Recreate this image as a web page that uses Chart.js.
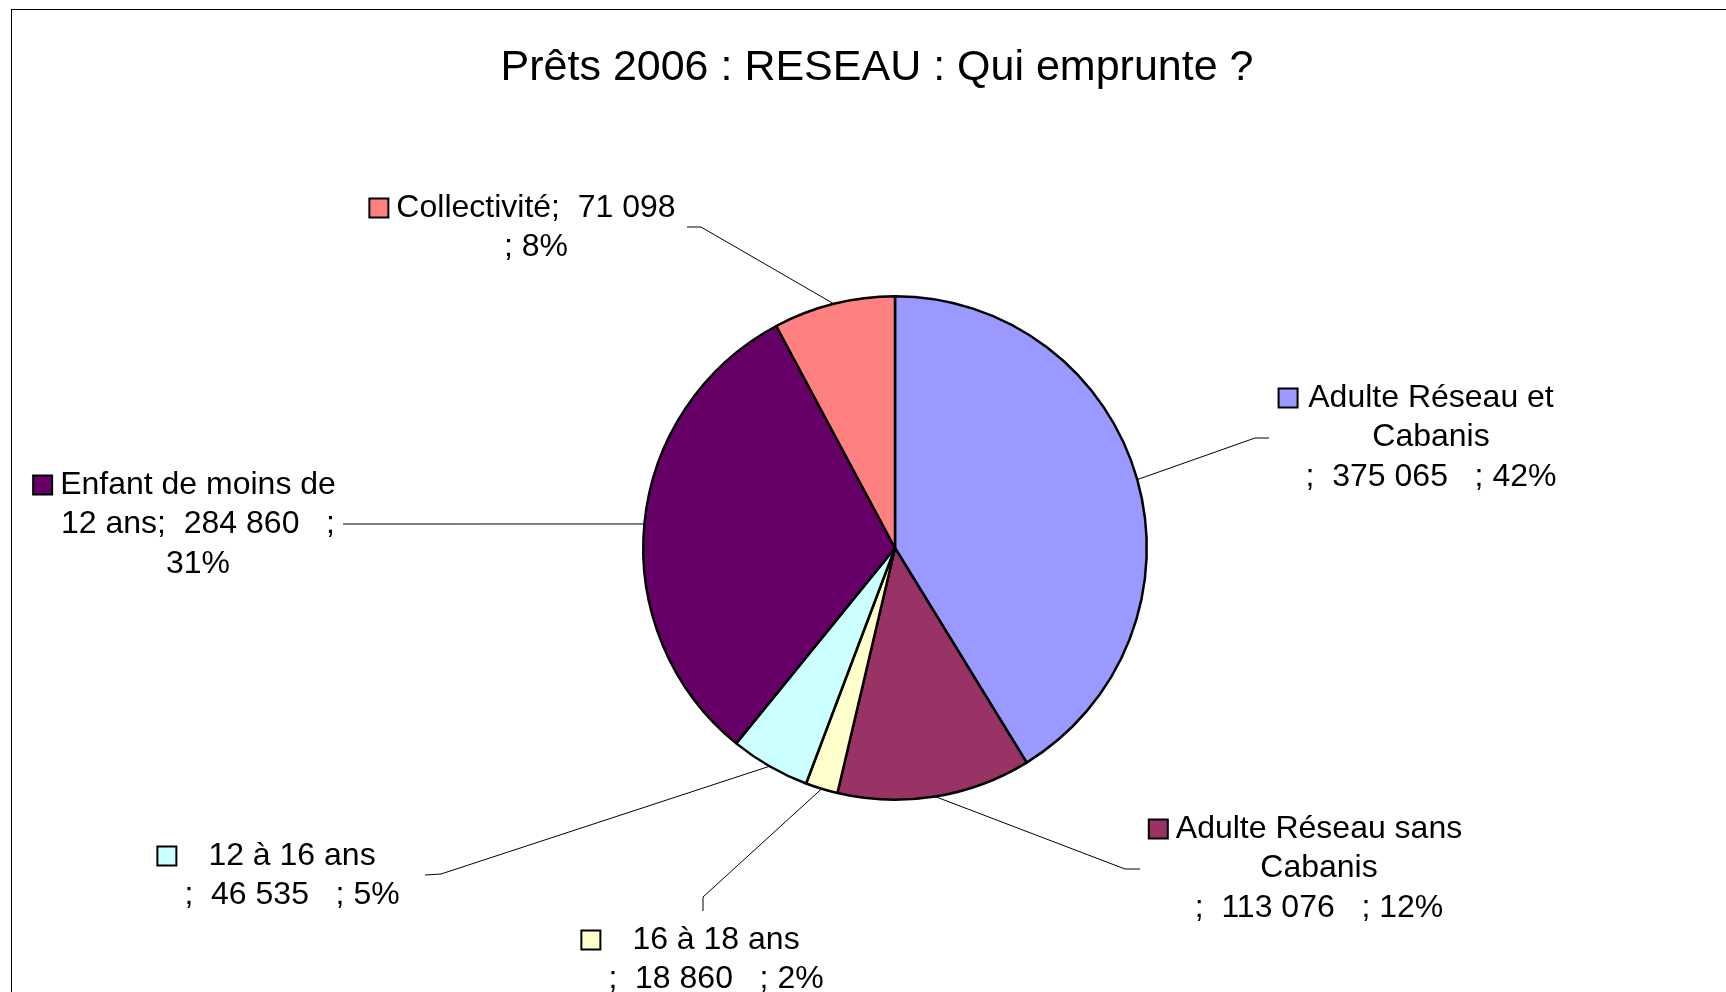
<!DOCTYPE html>
<html>
<head>
<meta charset="utf-8">
<script src="https://cdn.jsdelivr.net/npm/chart.js@4/dist/chart.umd.min.js"></script>
<style>
  html, body { margin: 0; padding: 0; background: #fff; }
  canvas { display: block; }
</style>
</head>
<body>
<canvas id="pie" width="1726" height="992"></canvas>
<script>
const title = 'Prêts 2006 : RESEAU : Qui emprunte ?'

const categories = [
  'Adulte Réseau et Cabanis',
  'Adulte Réseau sans Cabanis',
  '16 à 18 ans',
  '12 à 16 ans',
  'Enfant de moins de 12 ans',
  'Collectivité',
]
const values = [375065, 113076, 18860, 46535, 284860, 71098]
const percents = ['42%', '12%', '2%', '5%', '31%', '8%']

// wrapped label text, as Excel broke it
const labelLines = [
  ['Adulte Réseau et', 'Cabanis', ';  375 065   ; 42%'],
  ['Adulte Réseau sans', 'Cabanis', ';  113 076   ; 12%'],
  ['16 à 18 ans', ';  18 860   ; 2%'],
  ['12 à 16 ans', ';  46 535   ; 5%'],
  ['Enfant de moins de', '12 ans;  284 860   ;', '31%'],
  ['Collectivité;  71 098', '; 8%'],
]

const colors = ['#9999FF', '#993366', '#FFFFCC', '#CCFFFF', '#660066', '#FF8080']

// label placement: block centre x, first line y, leader points (label end, elbow)
const labelLayout = [
  { cx: 1431, y: 398, leader: [[1269, 438], [1255, 438]] },
  { cx: 1319, y: 829, leader: [[1140, 869], [1125, 869]] },
  { cx: 716, y: 940, leader: [[703, 911], [703, 897]] },
  { cx: 292, y: 856, leader: [[425, 875], [441, 874]] },
  { cx: 198, y: 485, leader: [[343, 524], [350, 524]] },
  { cx: 536, y: 208, leader: [[687, 227], [701, 227]] },
]

const labelFont = '32px "Liberation Sans", Arial, sans-serif'
const lineHeight = 39.5
const keySize = 19

const decorations = {
  id: 'decorations',
  beforeDraw(chart) {
    const ctx = chart.ctx
    ctx.save()
    ctx.fillStyle = '#fff'
    ctx.fillRect(0, 0, chart.width, chart.height)
    ctx.strokeStyle = '#000'
    ctx.lineWidth = 1
    ctx.strokeRect(11.5, 9.5, 3000, 3000)
    ctx.fillStyle = '#000'
    ctx.font = '43px "Liberation Sans", Arial, sans-serif'
    ctx.textAlign = 'center'
    ctx.textBaseline = 'middle'
    ctx.fillText(title, 877, 68)
    ctx.restore()
  },
  afterDraw(chart) {
    const ctx = chart.ctx
    const arcs = chart.getDatasetMeta(0).data
    ctx.save()
    arcs.forEach((arc, i) => {
      const lay = labelLayout[i]
      const p = arc.getProps(['x', 'y', 'startAngle', 'endAngle', 'outerRadius'], true)
      const mid = (p.startAngle + p.endAngle) / 2
      const ex = p.x + Math.cos(mid) * p.outerRadius
      const ey = p.y + Math.sin(mid) * p.outerRadius

      // leader line
      ctx.strokeStyle = '#000'
      ctx.lineWidth = 1
      ctx.beginPath()
      ctx.moveTo(lay.leader[0][0], lay.leader[0][1])
      ctx.lineTo(lay.leader[1][0], lay.leader[1][1])
      ctx.lineTo(ex, ey)
      ctx.stroke()

      // text block
      ctx.font = labelFont
      ctx.fillStyle = '#000'
      ctx.textAlign = 'center'
      ctx.textBaseline = 'middle'
      const lines = labelLines[i]
      let w = 0
      lines.forEach((line, j) => {
        w = Math.max(w, ctx.measureText(line).width)
        ctx.fillText(line, lay.cx, lay.y + j * lineHeight)
      })

      // legend key to the left of the block
      const kx = lay.cx - w / 2 - 8 - keySize
      const ky = lay.y - keySize / 2
      ctx.fillStyle = colors[i]
      ctx.fillRect(kx, ky, keySize, keySize)
      ctx.lineWidth = 2
      ctx.strokeRect(kx, ky, keySize, keySize)
    })
    ctx.restore()
  },
}

new Chart(document.getElementById('pie'), {
  type: 'pie',
  data: {
    labels: categories,
    datasets: [
      {
        data: values,
        backgroundColor: colors,
        borderColor: '#000',
        borderWidth: 2.5,
      },
    ],
  },
  options: {
    responsive: false,
    animation: false,
    layout: {
      padding: { top: 295, bottom: 191, left: 642, right: 578 },
    },
    plugins: {
      legend: { display: false },
      tooltip: { enabled: false },
      title: { display: false },
    },
  },
  plugins: [decorations],
})
</script>
</body>
</html>
